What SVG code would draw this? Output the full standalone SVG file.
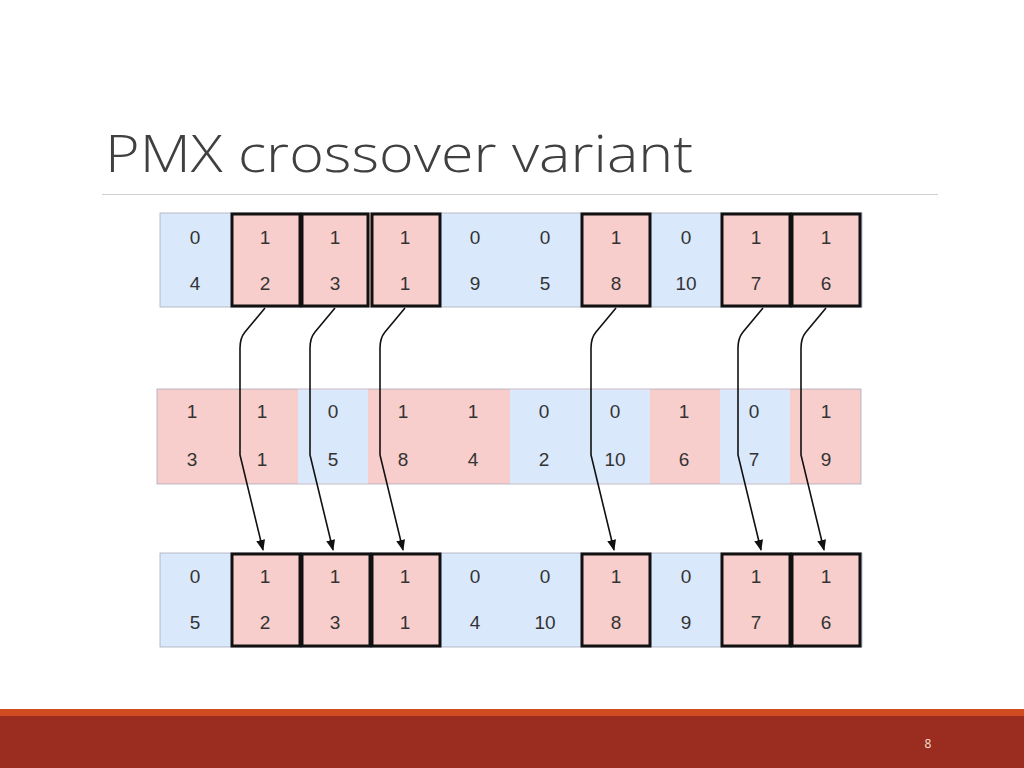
<svg xmlns="http://www.w3.org/2000/svg" width="1024" height="768" viewBox="0 0 1024 768">
<style>
.b{fill:#dae8fc}.p{fill:#f8cecc}
.t{font-family:"Liberation Sans",Arial,sans-serif;font-size:19px;fill:#333;text-anchor:middle}
.k{fill:none;stroke:#111;stroke-width:3}
.c{fill:none;stroke:#111;stroke-width:1.6;marker-end:url(#a)}
</style>
<defs><marker id="a" viewBox="0 0 10 10" refX="9" refY="5" markerWidth="7" markerHeight="7" orient="auto"><path d="M0,1 L10,5 L0,9 Z" fill="#111"/></marker></defs>
<rect width="1024" height="768" fill="#fff"/>
<text x="105" y="172" font-family="'Open Sans',sans-serif" font-weight="300" font-size="52" fill="#404040" textLength="588" lengthAdjust="spacingAndGlyphs">PMX crossover variant</text>
<line x1="102" y1="194.5" x2="938" y2="194.5" stroke="#d0d0d0" stroke-width="1"/>
<g id="row1">
<rect x="160" y="213" width="702" height="94" class="b" stroke="#aab" stroke-width="0.8"/>
<g class="p"><rect x="231" y="213" width="70" height="94"/><rect x="301" y="213" width="70" height="94"/><rect x="371" y="213" width="70" height="94"/><rect x="581" y="213" width="70" height="94"/><rect x="721" y="213" width="70" height="94"/><rect x="791" y="213" width="70" height="94"/></g>
<g class="k"><rect x="232" y="214" width="68" height="92"/><rect x="302" y="214" width="66" height="92"/><rect x="372" y="214" width="68" height="92"/><rect x="582" y="214" width="68" height="92"/><rect x="722" y="214" width="68" height="92"/><rect x="792" y="214" width="68" height="92"/></g>
<g class="t"><text x="195" y="244">0</text><text x="265" y="244">1</text><text x="335" y="244">1</text><text x="405" y="244">1</text><text x="475" y="244">0</text><text x="545" y="244">0</text><text x="616" y="244">1</text><text x="686" y="244">0</text><text x="756" y="244">1</text><text x="826" y="244">1</text>
<text x="195" y="290">4</text><text x="265" y="290">2</text><text x="335" y="290">3</text><text x="405" y="290">1</text><text x="475" y="290">9</text><text x="545" y="290">5</text><text x="616" y="290">8</text><text x="686" y="290">10</text><text x="756" y="290">7</text><text x="826" y="290">6</text></g>
</g>
<g id="row2">
<rect x="157" y="389" width="704" height="95" class="p" stroke="#aab" stroke-width="0.8"/>
<g class="b"><rect x="298" y="389.5" width="70" height="94"/><rect x="510" y="389.5" width="140" height="94"/><rect x="720" y="389.5" width="70" height="94"/></g>
<g class="t"><text x="192" y="418">1</text><text x="262" y="418">1</text><text x="333" y="418">0</text><text x="403" y="418">1</text><text x="473" y="418">1</text><text x="544" y="418">0</text><text x="615" y="418">0</text><text x="684" y="418">1</text><text x="754" y="418">0</text><text x="826" y="418">1</text>
<text x="192" y="466">3</text><text x="262" y="466">1</text><text x="333" y="466">5</text><text x="403" y="466">8</text><text x="473" y="466">4</text><text x="544" y="466">2</text><text x="615" y="466">10</text><text x="684" y="466">6</text><text x="754" y="466">7</text><text x="826" y="466">9</text></g>
</g>
<g id="row3">
<rect x="160" y="553" width="702" height="94" class="b" stroke="#aab" stroke-width="0.8"/>
<g class="p"><rect x="231" y="553" width="70" height="94"/><rect x="301" y="553" width="70" height="94"/><rect x="371" y="553" width="70" height="94"/><rect x="581" y="553" width="70" height="94"/><rect x="721" y="553" width="70" height="94"/><rect x="791" y="553" width="70" height="94"/></g>
<g class="k"><rect x="232" y="554" width="68" height="92"/><rect x="302" y="554" width="68" height="92"/><rect x="372" y="554" width="68" height="92"/><rect x="582" y="554" width="68" height="92"/><rect x="722" y="554" width="68" height="92"/><rect x="792" y="554" width="68" height="92"/></g>
<g class="t"><text x="195" y="583">0</text><text x="265" y="583">1</text><text x="335" y="583">1</text><text x="405" y="583">1</text><text x="475" y="583">0</text><text x="545" y="583">0</text><text x="616" y="583">1</text><text x="686" y="583">0</text><text x="756" y="583">1</text><text x="826" y="583">1</text>
<text x="195" y="629">5</text><text x="265" y="629">2</text><text x="335" y="629">3</text><text x="405" y="629">1</text><text x="475" y="629">4</text><text x="545" y="629">10</text><text x="616" y="629">8</text><text x="686" y="629">9</text><text x="756" y="629">7</text><text x="826" y="629">6</text></g>
</g>
<g id="connectors">
<path class="c" d="M265,308 L245,332 Q240,338 240,348 L240,455 L263,550"/>
<path class="c" d="M335,308 L315,332 Q310,338 310,348 L310,455 L333,550"/>
<path class="c" d="M405,308 L385,332 Q380,338 380,348 L380,455 L403,550"/>
<path class="c" d="M616,308 L596,332 Q591,338 591,348 L591,455 L614,550"/>
<path class="c" d="M763,308 L743,332 Q738,338 738,348 L738,455 L761,550"/>
<path class="c" d="M826,308 L806,332 Q801,338 801,348 L801,455 L824,550"/>
</g>
<rect x="0" y="709" width="1024" height="8" fill="#d14b20"/>
<rect x="0" y="716" width="1024" height="52" fill="#9b2d20"/>
<text x="928" y="748" font-family="'Open Sans',sans-serif" font-size="12" fill="#f4e0d0" text-anchor="middle">8</text>
</svg>
